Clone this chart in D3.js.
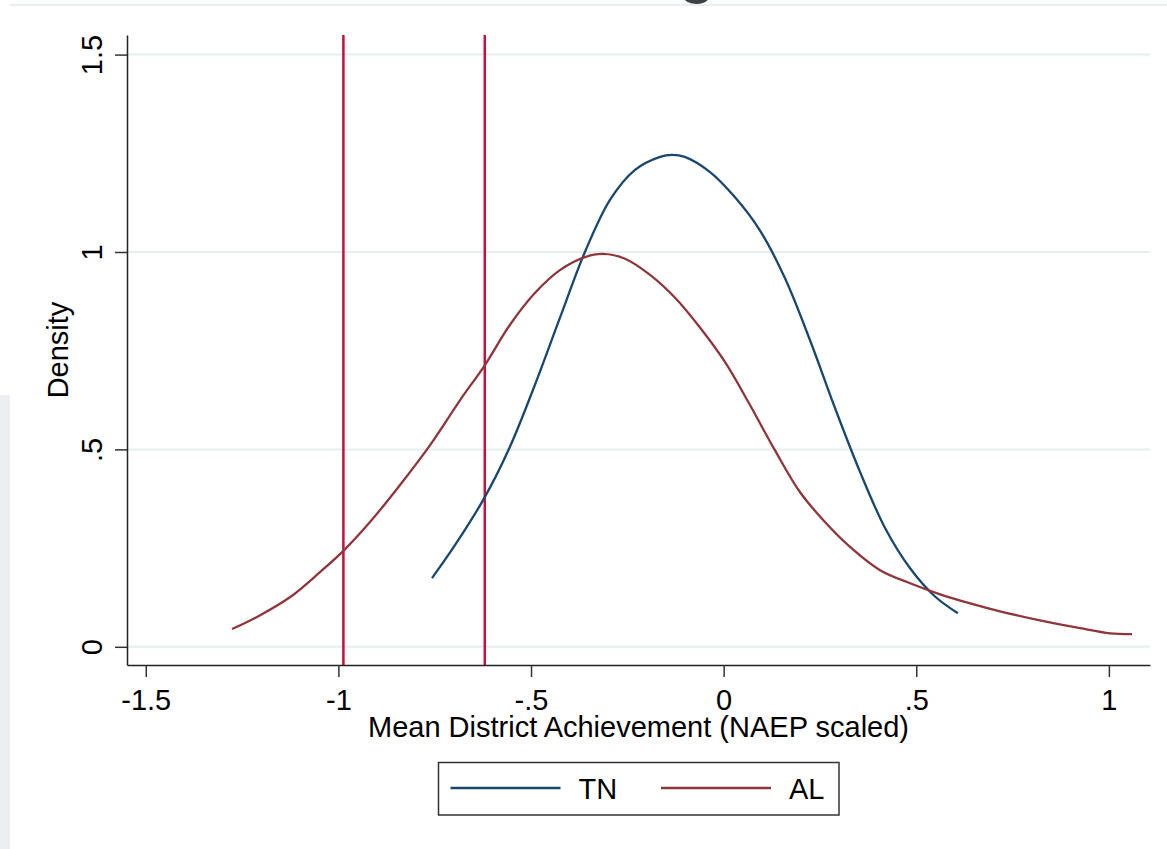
<!DOCTYPE html>
<html>
<head>
<meta charset="utf-8">
<script src="https://cdn.jsdelivr.net/npm/d3@7"></script>
<style>
  body { margin: 0; background: #fff; }
  svg text { font-family: Arial, "Liberation Sans", sans-serif; }
</style>
</head>
<body>
<div id="chart"></div>
<script>
// kernel density curves
const tnX = [-0.757, -0.697, -0.62, -0.555, -0.49, -0.425, -0.36, -0.295, -0.23, -0.165, -0.134, -0.101, -0.036, 0.029, 0.094, 0.159, 0.224, 0.289, 0.354, 0.419, 0.484, 0.548, 0.608];
const tnY = [0.174, 0.258, 0.379, 0.506, 0.663, 0.833, 1.0, 1.132, 1.208, 1.241, 1.246, 1.241, 1.203, 1.139, 1.055, 0.934, 0.777, 0.605, 0.443, 0.301, 0.199, 0.128, 0.085];

const alX = [-1.276, -1.203, -1.125, -1.048, -0.985, -0.918, -0.84, -0.762, -0.684, -0.62, -0.555, -0.49, -0.425, -0.36, -0.313, -0.256, -0.191, -0.126, -0.061, 0.003, 0.068, 0.133, 0.198, 0.263, 0.328, 0.406, 0.484, 0.562, 0.64, 0.717, 0.821, 0.925, 1.003, 1.06];
const alY = [0.045, 0.08, 0.126, 0.189, 0.245, 0.316, 0.41, 0.511, 0.625, 0.713, 0.815, 0.896, 0.954, 0.987, 0.995, 0.983, 0.942, 0.884, 0.808, 0.722, 0.613, 0.498, 0.392, 0.316, 0.253, 0.194, 0.161, 0.133, 0.11, 0.09, 0.067, 0.047, 0.034, 0.032];

// vertical reference lines
const refLines = [-0.987, -0.62];

const xTicks = [-1.5, -1, -0.5, 0, 0.5, 1];
const xTickLabels = ["-1.5", "-1", "-.5", "0", ".5", "1"];
const yTicks = [0, 0.5, 1, 1.5];
const yTickLabels = ["0", ".5", "1", "1.5"];

const seriesNames = ["TN", "AL"];
const seriesColors = ["#1a476f", "#90353b"];

const width = 1167, height = 849;
const plot = {left: 127, right: 1150, top: 35, bottom: 665};

const svg = d3.select("#chart").append("svg")
  .attr("width", width)
  .attr("height", height);

// slide bits around the chart
svg.append("rect").attr("x", 0).attr("y", 395).attr("width", 10).attr("height", height - 395).attr("fill", "#eceef2");
svg.append("line").attr("x1", 10).attr("x2", width).attr("y1", 5).attr("y2", 5)
  .attr("stroke", "#e9eef2").attr("stroke-width", 2);
svg.append("text").attr("x", 697).attr("y", -11).attr("text-anchor", "middle")
  .attr("font-size", 70).attr("fill", "#404040").text("g");

const x = d3.scaleLinear().domain([-1.5487, 1.1067]).range([plot.left, plot.right]);
const y = d3.scaleLinear().domain([-0.0461, 1.5496]).range([plot.bottom, plot.top]);

// gridlines
svg.append("g").attr("class", "grid")
  .selectAll("line")
  .data(yTicks)
  .join("line")
  .attr("x1", plot.left).attr("x2", plot.right)
  .attr("y1", d => y(d)).attr("y2", d => y(d))
  .attr("stroke", "#e6eef0")
  .attr("stroke-width", 2);

// reference lines
svg.append("g").attr("class", "refs")
  .selectAll("line")
  .data(refLines)
  .join("line")
  .attr("x1", d => x(d)).attr("x2", d => x(d))
  .attr("y1", plot.top).attr("y2", plot.bottom)
  .attr("stroke", "#c8103c")
  .attr("stroke-width", 2.5);

// density lines
const line = d3.line()
  .x(d => x(d[0]))
  .y(d => y(d[1]))
  .curve(d3.curveCatmullRom);

const series = [d3.zip(tnX, tnY), d3.zip(alX, alY)];
svg.append("g").attr("class", "curves")
  .selectAll("path")
  .data(series)
  .join("path")
  .attr("d", line)
  .attr("fill", "none")
  .attr("stroke", (d, i) => seriesColors[i])
  .attr("stroke-width", 2.3);

// x axis
const xAxis = svg.append("g")
  .attr("transform", `translate(0,${plot.bottom})`)
  .call(d3.axisBottom(x).tickValues(xTicks)
    .tickFormat((d, i) => xTickLabels[i])
    .tickSize(12).tickPadding(12).tickSizeOuter(0));
xAxis.select(".domain").attr("stroke", "#222").attr("stroke-width", 1.5);
xAxis.selectAll(".tick line").attr("stroke", "#333").attr("stroke-width", 1.5);
xAxis.selectAll(".tick text").attr("font-size", 29).attr("fill", "#000");

// y axis
const yAxis = svg.append("g")
  .attr("transform", `translate(${plot.left},0)`)
  .call(d3.axisLeft(y).tickValues(yTicks)
    .tickFormat((d, i) => yTickLabels[i])
    .tickSize(12).tickSizeOuter(0));
yAxis.select(".domain").attr("stroke", "#222").attr("stroke-width", 1.5);
yAxis.selectAll(".tick line").attr("stroke", "#333").attr("stroke-width", 1.5);
yAxis.selectAll(".tick text")
  .attr("font-size", 29).attr("fill", "#000")
  .attr("transform", "rotate(-90)")
  .attr("text-anchor", "middle")
  .attr("x", 0).attr("y", -25).attr("dy", null);

// axis titles
svg.append("text")
  .attr("x", (plot.left + plot.right) / 2).attr("y", 737)
  .attr("text-anchor", "middle").attr("font-size", 29)
  .text("Mean District Achievement (NAEP scaled)");

svg.append("text")
  .attr("transform", `translate(68,${(plot.top + plot.bottom) / 2}) rotate(-90)`)
  .attr("text-anchor", "middle").attr("font-size", 29)
  .text("Density");

// legend
const legend = svg.append("g").attr("class", "legend");
legend.append("rect")
  .attr("x", 438.5).attr("y", 762.5).attr("width", 400.5).attr("height", 52.5)
  .attr("fill", "#fff").attr("stroke", "#333").attr("stroke-width", 1.5);

const legendX = [450.5, 661];
const items = legend.selectAll("g.item")
  .data(seriesNames)
  .join("g").attr("class", "item")
  .attr("transform", (d, i) => `translate(${legendX[i]},0)`);
items.append("line")
  .attr("x1", 0).attr("x2", 110).attr("y1", 788).attr("y2", 788)
  .attr("stroke", (d, i) => seriesColors[i]).attr("stroke-width", 2.5);
items.append("text")
  .attr("x", 128).attr("y", 799)
  .attr("font-size", 29)
  .text(d => d);
</script>
</body>
</html>
